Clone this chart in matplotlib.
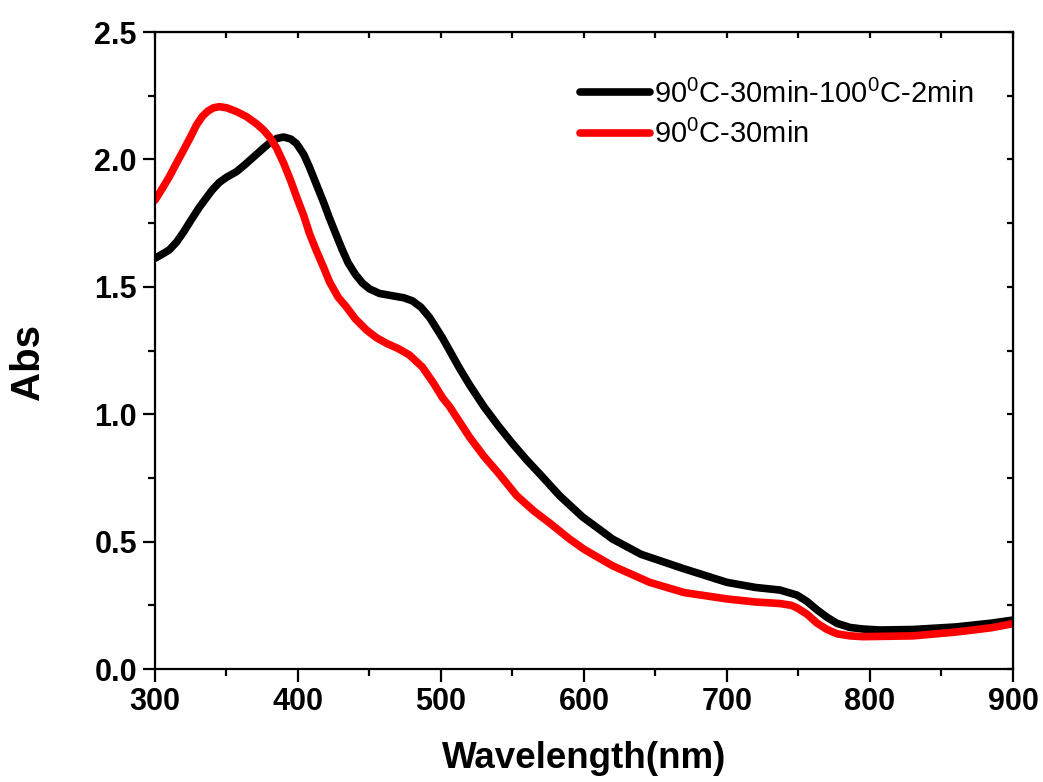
import numpy as np
import matplotlib
matplotlib.use("Agg")
import matplotlib.pyplot as plt
from matplotlib.ticker import MultipleLocator

plt.rcParams['font.family'] = ['Liberation Sans', 'DejaVu Sans']
plt.rcParams['mathtext.default'] = 'regular'

#-------------
#absorbance spectra
#-------------
wl_black = [300, 305, 310, 315, 320, 325, 331, 336, 340, 345, 350, 357, 363, 368, 375, 380,
            385, 390, 395, 399, 404, 408, 413, 418, 422, 427, 431, 435, 440, 445, 450, 457,
            466, 474, 480, 486, 492, 501, 506, 513, 520, 530, 540, 550, 560, 570, 583, 599,
            620, 640, 669, 700, 720, 737, 749, 756, 763, 770, 777, 786, 795, 807, 830, 860,
            885, 900]
abs_black = [1.612, 1.628, 1.645, 1.675, 1.715, 1.76, 1.812, 1.85, 1.88, 1.91, 1.93, 1.952,
             1.98, 2.005, 2.04, 2.064, 2.082, 2.088, 2.08, 2.062, 2.02, 1.97, 1.90, 1.83,
             1.77, 1.70, 1.645, 1.595, 1.55, 1.515, 1.492, 1.474, 1.465, 1.457, 1.445, 1.42,
             1.38, 1.30, 1.25, 1.18, 1.115, 1.03, 0.955, 0.885, 0.82, 0.76, 0.68, 0.597,
             0.51, 0.45, 0.395, 0.34, 0.32, 0.31, 0.29, 0.265, 0.232, 0.203, 0.179, 0.163,
             0.157, 0.153, 0.155, 0.165, 0.18, 0.192]

wl_red = [300, 305, 310, 315, 320, 325, 329, 333, 337, 341, 345, 350, 357, 364, 371, 376,
          380, 385, 390, 395, 399, 404, 408, 413, 418, 422, 428, 434, 440, 448, 455, 462,
          470, 478, 487, 495, 501, 506, 513, 520, 530, 540, 553, 565, 576, 590, 600, 620,
          646, 670, 700, 720, 737, 745, 749, 756, 763, 770, 777, 786, 795, 807, 830, 860,
          885, 900]
abs_red = [1.84, 1.885, 1.932, 1.985, 2.037, 2.09, 2.135, 2.168, 2.19, 2.203, 2.207, 2.203,
           2.188, 2.168, 2.14, 2.115, 2.089, 2.045, 1.985, 1.915, 1.853, 1.78, 1.71, 1.64,
           1.575, 1.52, 1.46, 1.42, 1.375, 1.33, 1.30, 1.278, 1.258, 1.232, 1.185, 1.12,
           1.065, 1.03, 0.97, 0.91, 0.835, 0.77, 0.68, 0.62, 0.573, 0.51, 0.47, 0.405,
           0.34, 0.30, 0.275, 0.263, 0.257, 0.25, 0.24, 0.215, 0.18, 0.155, 0.138, 0.13,
           0.127, 0.128, 0.13, 0.145, 0.162, 0.178]

labels = ['90$^0$C-30min-100$^0$C-2min', '90$^0$C-30min']


fig = plt.figure(figsize=(10.43, 7.82), dpi=100)
ax = fig.add_axes([0.1486, 0.1445, 0.8226, 0.8145])

ax.plot(wl_black, abs_black, color='black', lw=5.5, label=labels[0],
        solid_capstyle='round', solid_joinstyle='round')
ax.plot(wl_red, abs_red, color='red', lw=5.5, label=labels[1],
        solid_capstyle='round', solid_joinstyle='round')

ax.set_xlim(300, 900)
ax.set_ylim(0.0, 2.5)
ax.xaxis.set_major_locator(MultipleLocator(100))
ax.xaxis.set_minor_locator(MultipleLocator(50))
ax.yaxis.set_major_locator(MultipleLocator(0.5))
ax.yaxis.set_minor_locator(MultipleLocator(0.25))
ax.yaxis.set_major_formatter(plt.FormatStrFormatter('%.1f'))

for sp in ax.spines.values():
    sp.set_linewidth(1.6)

#origin-style ticks: out on bottom/left, in on top/right
ax.tick_params(which='both', bottom=True, left=True, top=False, right=False,
               direction='out', width=1.6)
ax.tick_params(which='major', length=9, labelsize=22, pad=4)
ax.tick_params(which='minor', length=5)
for lab in ax.get_xticklabels() + ax.get_yticklabels():
    lab.set_fontweight('bold')

top = ax.secondary_xaxis('top')
top.xaxis.set_major_locator(MultipleLocator(100))
top.xaxis.set_minor_locator(MultipleLocator(50))
top.tick_params(which='both', direction='in', length=4, width=1.6, labeltop=False)
right = ax.secondary_yaxis('right')
right.yaxis.set_major_locator(MultipleLocator(0.5))
right.yaxis.set_minor_locator(MultipleLocator(0.25))
right.tick_params(which='both', direction='in', length=4, width=1.6, labelright=False)

ax.set_xlabel('Wavelength(nm)', fontsize=26.5, fontweight='bold', labelpad=17)
ax.set_ylabel('Abs', fontsize=29, fontweight='bold')
ax.yaxis.set_label_coords(-0.126, 0.482)

leg = ax.legend(loc='upper right', bbox_to_anchor=(0.985, 0.967), frameon=False,
                fontsize=21, handlelength=2.4, handletextpad=0.15, labelspacing=0.4)
for line in leg.get_lines():
    line.set_linewidth(5.5)

fig.savefig('out.png', dpi=100)
